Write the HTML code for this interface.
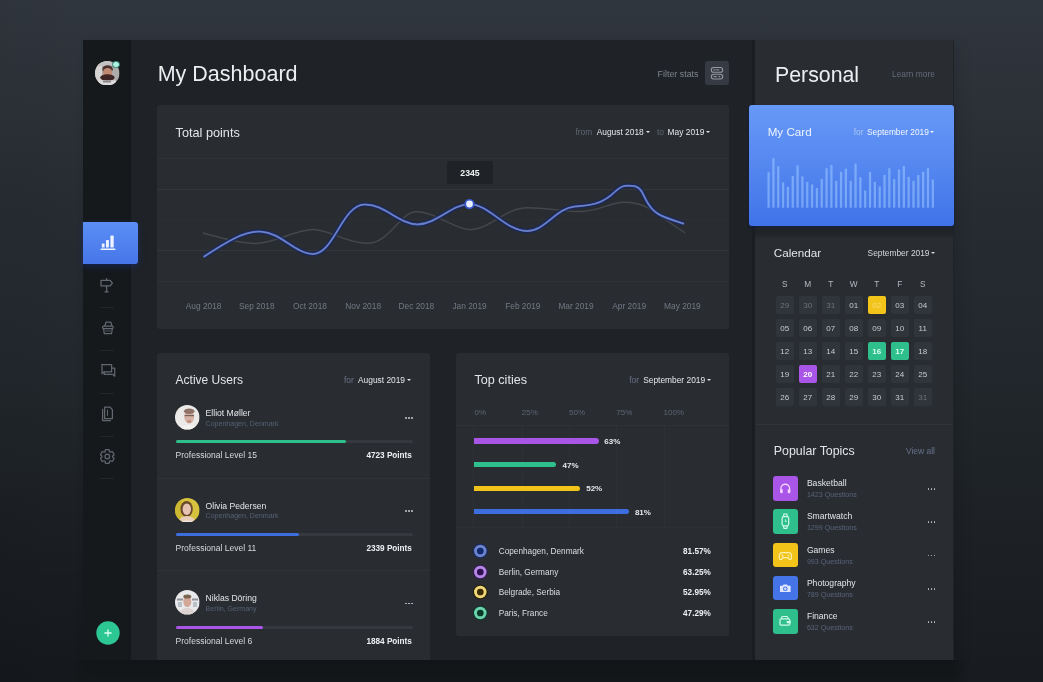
<!DOCTYPE html>
<html><head><meta charset="utf-8"><style>
*{margin:0;padding:0;box-sizing:content-box}
html,body{width:1043px;height:682px;overflow:hidden;background:#1c2024}
body{position:relative;font-family:"Liberation Sans", sans-serif}
.t{position:absolute;white-space:nowrap}
.r{position:absolute}
</style></head><body>
<div style="position:absolute;left:0;top:0;width:1043px;height:682px;filter:blur(0.3px)">
<div class="r" style="left:0;top:0;width:1043px;height:682px;background:linear-gradient(180deg,rgb(48,54,62) 0px,rgb(39,44,50) 200px,rgb(33,38,43) 400px,rgb(26,29,34) 620px,rgb(24,27,31) 682px);"></div>
<div class="r" style="left:0;top:0;width:1043px;height:682px;background:linear-gradient(90deg,rgba(0,0,0,0.03) 0%,rgba(0,0,0,0) 8%,rgba(0,0,0,0) 100%);"></div>
<div class="r" style="left:0;top:380px;width:90px;height:302px;background:linear-gradient(180deg,rgba(0,0,0,0) 0%,rgba(0,0,0,0.10) 70%,rgba(0,0,0,0.12) 100%);"></div>
<div class="r" style="left:70px;top:660px;width:900px;height:22px;background:linear-gradient(90deg,rgba(20,23,26,0) 0px,rgb(20,23,26) 13px,rgb(20,23,26) 884px,rgba(20,23,26,0) 900px);"></div>
<div class="r" style="left:83px;top:40px;width:871px;height:620px;background:#1f2226;border-radius:0;box-shadow:6px 4px 12px rgba(0,0,0,0.10);"></div>
<div class="r" style="left:83px;top:40px;width:48px;height:620px;background:#16191c;border-radius:0;"></div>
<div class="r" style="left:754px;top:40px;width:199px;height:620px;background:#292d31;border-radius:0;"></div>
<div class="r" style="left:752px;top:40px;width:3px;height:620px;background:#1b1e21;border-radius:0;"></div>
<div class="t" style="left:157.70px;top:64.00px;font-size:21.5px;line-height:21.5px;color:#eceef0;font-weight:400;">My Dashboard</div>
<div class="t" style="right:344.50px;top:70.00px;font-size:8.9px;line-height:8.9px;color:#7e848e;font-weight:400;">Filter stats</div>
<div class="r" style="left:705px;top:61px;width:24px;height:24px;background:#353a43;border-radius:3px;"></div>
<svg class="r" style="left:705px;top:61px" width="24" height="24" viewBox="0 0 24 24">
<rect x="6.3" y="6.5" width="11.4" height="4.8" rx="2.4" fill="none" stroke="#959ba4" stroke-width="1.1"/>
<rect x="6.3" y="13.2" width="11.4" height="4.8" rx="2.4" fill="none" stroke="#959ba4" stroke-width="1.1"/>
<rect x="8.4" y="8.4" width="2.2" height="1" fill="#959ba4"/><rect x="11.2" y="8.4" width="3" height="1" fill="#959ba4"/>
<rect x="8.4" y="15.1" width="3.4" height="1" fill="#959ba4"/><path d="M13.8 14.4 L15.6 15.6 L13.8 16.8Z" fill="#959ba4"/>
</svg>
<div class="r" style="left:157px;top:105px;width:572px;height:224px;background:#292d31;border-radius:3px;"></div>
<div class="t" style="left:175.60px;top:127.00px;font-size:12.7px;line-height:12.7px;color:#e3e5e8;font-weight:400;">Total points</div>
<div class="t" style="left:575.50px;top:128.00px;font-size:8.4px;line-height:8.4px;color:#5e6472;font-weight:400;">from</div>
<div class="t" style="left:596.70px;top:128.00px;font-size:8.4px;line-height:8.4px;color:#e6e7e9;font-weight:400;">August 2018</div>
<div class="r" style="left:645.7px;top:131.0px;width:0;height:0;border-left:2.5px solid transparent;border-right:2.5px solid transparent;border-top:2.9px solid #e3e4e6;"></div>
<div class="t" style="left:657.00px;top:128.00px;font-size:8.4px;line-height:8.4px;color:#5e6472;font-weight:400;">to</div>
<div class="t" style="left:667.60px;top:128.00px;font-size:8.4px;line-height:8.4px;color:#e6e7e9;font-weight:400;">May 2019</div>
<div class="r" style="left:706.2px;top:131.0px;width:0;height:0;border-left:2.5px solid transparent;border-right:2.5px solid transparent;border-top:2.9px solid #e3e4e6;"></div>
<div class="r" style="left:157px;top:158px;width:572px;height:1px;background:#2e3236;border-radius:0;"></div>
<div class="r" style="left:157px;top:189px;width:572px;height:1px;background:#33373c;border-radius:0;"></div>
<div class="r" style="left:157px;top:219px;width:572px;height:1px;background:#2c3034;border-radius:0;"></div>
<div class="r" style="left:157px;top:250px;width:572px;height:1px;background:#33373c;border-radius:0;"></div>
<div class="r" style="left:157px;top:281px;width:572px;height:1px;background:#2e3236;border-radius:0;"></div>
<div class="t" style="left:103.60px;width:200px;text-align:center;top:302.00px;font-size:8.35px;line-height:8.35px;color:#727884;font-weight:400;">Aug 2018</div>
<div class="t" style="left:156.80px;width:200px;text-align:center;top:302.00px;font-size:8.35px;line-height:8.35px;color:#727884;font-weight:400;">Sep 2018</div>
<div class="t" style="left:210.00px;width:200px;text-align:center;top:302.00px;font-size:8.35px;line-height:8.35px;color:#727884;font-weight:400;">Oct 2018</div>
<div class="t" style="left:263.20px;width:200px;text-align:center;top:302.00px;font-size:8.35px;line-height:8.35px;color:#727884;font-weight:400;">Nov 2018</div>
<div class="t" style="left:316.40px;width:200px;text-align:center;top:302.00px;font-size:8.35px;line-height:8.35px;color:#727884;font-weight:400;">Dec 2018</div>
<div class="t" style="left:369.60px;width:200px;text-align:center;top:302.00px;font-size:8.35px;line-height:8.35px;color:#727884;font-weight:400;">Jan 2019</div>
<div class="t" style="left:422.80px;width:200px;text-align:center;top:302.00px;font-size:8.35px;line-height:8.35px;color:#727884;font-weight:400;">Feb 2019</div>
<div class="t" style="left:476.00px;width:200px;text-align:center;top:302.00px;font-size:8.35px;line-height:8.35px;color:#727884;font-weight:400;">Mar 2019</div>
<div class="t" style="left:529.20px;width:200px;text-align:center;top:302.00px;font-size:8.35px;line-height:8.35px;color:#727884;font-weight:400;">Apr 2019</div>
<div class="t" style="left:582.40px;width:200px;text-align:center;top:302.00px;font-size:8.35px;line-height:8.35px;color:#727884;font-weight:400;">May 2019</div>
<svg class="r" style="left:0;top:0" width="1043" height="682" viewBox="0 0 1043 682">
<path d="M203,233 C222,238 238,243.5 255.4,243.5 C275,243.5 295,229.5 313,229.5 C330,229.5 345,243.3 367.4,243.3 C390,243.3 400,211.7 416.3,211.7 C435,211.7 455,229.7 470,229.7 C490,229.7 505,207.7 527.5,207.7 C548,207.7 560,211.5 580,211.5 C600,211.5 610,202.2 623.6,202.2 C633,202.2 640,203 648,208 C660,216 672,224 685.3,233" fill="none" stroke="#44484d" stroke-width="1.4"/>
<path d="M203.6,256.9 C225,243 245,230 262,231.7 C281,233 296,254 313,254 C334,254 342,205 364.5,204.5 C385,204 398,224 417.7,224.4 C437,224 452,204 469.5,204.2 C490,204.5 505,231 527.5,231.1 C545,231 556,208 575,206.5 C590,205.5 600,204 610,196 C618,189 621,186 626,185.8 C632,185.6 638,185 642,192 C646,200 650,210 660,215 C668,219 676,221 684,223.7" fill="none" stroke="#1a2858" stroke-width="5" opacity="0.85"/>
<path d="M203.6,256.9 C225,243 245,230 262,231.7 C281,233 296,254 313,254 C334,254 342,205 364.5,204.5 C385,204 398,224 417.7,224.4 C437,224 452,204 469.5,204.2 C490,204.5 505,231 527.5,231.1 C545,231 556,208 575,206.5 C590,205.5 600,204 610,196 C618,189 621,186 626,185.8 C632,185.6 638,185 642,192 C646,200 650,210 660,215 C668,219 676,221 684,223.7" fill="none" stroke="#5a72c4" stroke-width="2"/>
<path d="M203.6,256.9 C225,243 245,230 262,231.7 C281,233 296,254 313,254 C334,254 342,205 364.5,204.5 C385,204 398,224 417.7,224.4 C437,224 452,204 469.5,204.2 C490,204.5 505,231 527.5,231.1 C545,231 556,208 575,206.5 C590,205.5 600,204 610,196 C618,189 621,186 626,185.8 C632,185.6 638,185 642,192 C646,200 650,210 660,215 C668,219 676,221 684,223.7" fill="none" stroke="#7488c8" stroke-width="0.8"/>
<circle cx="469.5" cy="204" r="5.2" fill="#3453c4"/>
<circle cx="469.5" cy="204" r="3.4" fill="#e8eeff"/>
</svg>
<div class="r" style="left:447px;top:161px;width:46px;height:23px;background:#1f2226;border-radius:2px;"></div>
<div class="t" style="left:370.00px;width:200px;text-align:center;top:169.00px;font-size:8.7px;line-height:8.7px;color:#f0f1f2;font-weight:700;">2345</div>
<div class="r" style="left:157px;top:353px;width:273px;height:307px;background:#292d31;border-radius:3px 3px 0 0;"></div>
<div class="t" style="left:175.60px;top:374.00px;font-size:12.0px;line-height:12.0px;color:#e3e5e8;font-weight:400;">Active Users</div>
<div class="t" style="left:344.00px;top:376.00px;font-size:8.4px;line-height:8.4px;color:#6c7088;font-weight:400;">for</div>
<div class="t" style="left:358.00px;top:376.00px;font-size:8.4px;line-height:8.4px;color:#e6e7e9;font-weight:400;">August 2019</div>
<div class="r" style="left:407.0px;top:379.0px;width:0;height:0;border-left:2.5px solid transparent;border-right:2.5px solid transparent;border-top:2.9px solid #e3e4e6;"></div>
<svg class="r" style="left:175.40px;top:405.00px" width="24.6" height="24.6" viewBox="0 0 24.6 24.6">
<defs><clipPath id="av1"><circle cx="12.3" cy="12.3" r="12.3"/></clipPath></defs>
<g clip-path="url(#av1)"><rect width="24.6" height="24.6" fill="#ebeae8"/>
<ellipse cx="14" cy="25" rx="9" ry="5" fill="#f4f3f2"/>
<ellipse cx="14.2" cy="11.8" rx="5" ry="6.6" fill="#d6b2a4"/>
<ellipse cx="14.2" cy="6.2" rx="5.3" ry="2.8" fill="#8f7268"/>
<rect x="9.6" y="10" width="9.4" height="1.2" fill="#5a4a48" opacity="0.8"/>
<ellipse cx="14.2" cy="16.5" rx="2.2" ry="1.2" fill="#c08878"/></g></svg>
<div class="t" style="left:205.60px;top:409.00px;font-size:8.6px;line-height:8.6px;color:#e3e5e8;font-weight:400;">Elliot Møller</div>
<div class="t" style="left:205.60px;top:420.00px;font-size:7.06px;line-height:7.06px;color:#556076;font-weight:400;">Copenhagen, Denmark</div>
<div class="r" style="left:405.2px;top:417.2px;width:1.8px;height:1.8px;border-radius:50%;background:#c4c8cd;"></div>
<div class="r" style="left:408.2px;top:417.2px;width:1.8px;height:1.8px;border-radius:50%;background:#c4c8cd;"></div>
<div class="r" style="left:411.2px;top:417.2px;width:1.8px;height:1.8px;border-radius:50%;background:#c4c8cd;"></div>
<div class="r" style="left:175.6px;top:440.2px;width:237px;height:3px;background:#35383e;border-radius:2px;"></div>
<div class="r" style="left:175.6px;top:440.2px;width:170.4px;height:3px;background:#2ebf8d;border-radius:2px;"></div>
<div class="t" style="left:175.60px;top:451.00px;font-size:8.5px;line-height:8.5px;color:#d8dadd;font-weight:400;">Professional Level 15</div>
<div class="t" style="right:631.10px;top:452.00px;font-size:8.2px;line-height:8.2px;color:#eef0f2;font-weight:700;">4723 Points</div>
<div class="r" style="left:157px;top:477.5px;width:273px;height:1px;background:#2f3237;border-radius:0;"></div>
<svg class="r" style="left:175.40px;top:497.70px" width="24.6" height="24.6" viewBox="0 0 24.6 24.6">
<defs><clipPath id="av2"><circle cx="12.3" cy="12.3" r="12.3"/></clipPath></defs>
<g clip-path="url(#av2)"><rect width="24.6" height="24.6" fill="#d6c23c"/>
<rect x="0" y="0" width="7" height="24.6" fill="#c9b12a" opacity="0.6"/>
<ellipse cx="11.6" cy="11" rx="6.2" ry="8" fill="#6a4a2c"/>
<ellipse cx="11.8" cy="11.2" rx="4.2" ry="5.8" fill="#e6c2b2"/>
<ellipse cx="12" cy="23.5" rx="8" ry="5.5" fill="#e8cdb8"/>
<ellipse cx="12" cy="25" rx="8" ry="2.5" fill="#f0e6e0"/></g></svg>
<div class="t" style="left:205.60px;top:502.00px;font-size:8.6px;line-height:8.6px;color:#e3e5e8;font-weight:400;">Olivia Pedersen</div>
<div class="t" style="left:205.60px;top:512.00px;font-size:7.06px;line-height:7.06px;color:#556076;font-weight:400;">Copenhagen, Denmark</div>
<div class="r" style="left:405.2px;top:509.9px;width:1.8px;height:1.8px;border-radius:50%;background:#c4c8cd;"></div>
<div class="r" style="left:408.2px;top:509.9px;width:1.8px;height:1.8px;border-radius:50%;background:#c4c8cd;"></div>
<div class="r" style="left:411.2px;top:509.9px;width:1.8px;height:1.8px;border-radius:50%;background:#c4c8cd;"></div>
<div class="r" style="left:175.6px;top:532.9px;width:237px;height:3px;background:#35383e;border-radius:2px;"></div>
<div class="r" style="left:175.6px;top:532.9px;width:123.4px;height:3px;background:#3d6ee0;border-radius:2px;"></div>
<div class="t" style="left:175.60px;top:544.00px;font-size:8.5px;line-height:8.5px;color:#d8dadd;font-weight:400;">Professional Level 11</div>
<div class="t" style="right:631.10px;top:545.00px;font-size:8.2px;line-height:8.2px;color:#eef0f2;font-weight:700;">2339 Points</div>
<div class="r" style="left:157px;top:570.2px;width:273px;height:1px;background:#2f3237;border-radius:0;"></div>
<svg class="r" style="left:175.40px;top:590.40px" width="24.6" height="24.6" viewBox="0 0 24.6 24.6">
<defs><clipPath id="av3"><circle cx="12.3" cy="12.3" r="12.3"/></clipPath></defs>
<g clip-path="url(#av3)"><rect width="24.6" height="24.6" fill="#e9e8ea"/>
<rect x="2" y="8.5" width="6" height="2" fill="#8f949b"/><rect x="17" y="8.5" width="6" height="2" fill="#8f949b"/>
<rect x="3" y="12" width="4" height="5" fill="#b8c0c8"/><rect x="18" y="12" width="4" height="5" fill="#b8c0c8"/>
<ellipse cx="12.3" cy="11.5" rx="4" ry="5.5" fill="#d4a898"/>
<ellipse cx="12.3" cy="6.6" rx="4" ry="2" fill="#7a6450"/>
<ellipse cx="12.3" cy="23" rx="7" ry="5" fill="#dcd2d0"/></g></svg>
<div class="t" style="left:205.60px;top:594.00px;font-size:8.6px;line-height:8.6px;color:#e3e5e8;font-weight:400;">Niklas Döring</div>
<div class="t" style="left:205.60px;top:605.00px;font-size:7.06px;line-height:7.06px;color:#556076;font-weight:400;">Berlin, Germany</div>
<div class="r" style="left:405.2px;top:602.6px;width:1.8px;height:1.8px;border-radius:50%;background:#c4c8cd;"></div>
<div class="r" style="left:408.2px;top:602.6px;width:1.8px;height:1.8px;border-radius:50%;background:#c4c8cd;"></div>
<div class="r" style="left:411.2px;top:602.6px;width:1.8px;height:1.8px;border-radius:50%;background:#c4c8cd;"></div>
<div class="r" style="left:175.6px;top:625.6px;width:237px;height:3px;background:#35383e;border-radius:2px;"></div>
<div class="r" style="left:175.6px;top:625.6px;width:87.2px;height:3px;background:#a855e8;border-radius:2px;"></div>
<div class="t" style="left:175.60px;top:637.00px;font-size:8.5px;line-height:8.5px;color:#d8dadd;font-weight:400;">Professional Level 6</div>
<div class="t" style="right:631.10px;top:638.00px;font-size:8.2px;line-height:8.2px;color:#eef0f2;font-weight:700;">1884 Points</div>
<div class="r" style="left:456px;top:353px;width:273px;height:283px;background:#292d31;border-radius:3px;"></div>
<div class="t" style="left:474.50px;top:374.00px;font-size:12.6px;line-height:12.6px;color:#e3e5e8;font-weight:400;">Top cities</div>
<div class="t" style="left:629.30px;top:376.00px;font-size:8.4px;line-height:8.4px;color:#6c7088;font-weight:400;">for</div>
<div class="t" style="left:643.20px;top:376.00px;font-size:8.4px;line-height:8.4px;color:#e6e7e9;font-weight:400;">September 2019</div>
<div class="r" style="left:706.7px;top:379.0px;width:0;height:0;border-left:2.5px solid transparent;border-right:2.5px solid transparent;border-top:2.9px solid #e3e4e6;"></div>
<div class="t" style="left:474.50px;top:409.00px;font-size:8.0px;line-height:8.0px;color:#5d6575;font-weight:400;">0%</div>
<div class="t" style="left:521.75px;top:409.00px;font-size:8.0px;line-height:8.0px;color:#5d6575;font-weight:400;">25%</div>
<div class="t" style="left:569.00px;top:409.00px;font-size:8.0px;line-height:8.0px;color:#5d6575;font-weight:400;">50%</div>
<div class="t" style="left:616.25px;top:409.00px;font-size:8.0px;line-height:8.0px;color:#5d6575;font-weight:400;">75%</div>
<div class="t" style="left:663.50px;top:409.00px;font-size:8.0px;line-height:8.0px;color:#5d6575;font-weight:400;">100%</div>
<div class="r" style="left:456px;top:425px;width:273px;height:1px;background:#2f3237;border-radius:0;"></div>
<div class="r" style="left:456px;top:527px;width:273px;height:1px;background:#2c2f34;border-radius:0;"></div>
<div class="r" style="left:473px;top:426px;width:1px;height:101px;background:#2d3035;border-radius:0;"></div>
<div class="r" style="left:522px;top:426px;width:1px;height:101px;background:#2d3035;border-radius:0;"></div>
<div class="r" style="left:569px;top:426px;width:1px;height:101px;background:#2d3035;border-radius:0;"></div>
<div class="r" style="left:616px;top:426px;width:1px;height:101px;background:#2d3035;border-radius:0;"></div>
<div class="r" style="left:664px;top:426px;width:1px;height:101px;background:#2d3035;border-radius:0;"></div>
<div class="r" style="left:474px;top:438.4px;width:124.7px;height:5.2px;background:#a855e8;border-radius:0 3px 3px 0;"></div>
<div class="t" style="left:604.30px;top:438.00px;font-size:8.0px;line-height:8.0px;color:#e6e7e9;font-weight:700;">63%</div>
<div class="r" style="left:474px;top:461.9px;width:82px;height:5.2px;background:#2ebf8d;border-radius:0 3px 3px 0;"></div>
<div class="t" style="left:562.60px;top:462.00px;font-size:8.0px;line-height:8.0px;color:#e6e7e9;font-weight:700;">47%</div>
<div class="r" style="left:474px;top:485.6px;width:106.1px;height:5.2px;background:#f2c318;border-radius:0 3px 3px 0;"></div>
<div class="t" style="left:586.20px;top:485.00px;font-size:8.0px;line-height:8.0px;color:#e6e7e9;font-weight:700;">52%</div>
<div class="r" style="left:474px;top:509.1px;width:154.5px;height:5.2px;background:#3d6ee0;border-radius:0 3px 3px 0;"></div>
<div class="t" style="left:634.90px;top:509.00px;font-size:8.0px;line-height:8.0px;color:#e6e7e9;font-weight:700;">81%</div>
<svg class="r" style="left:470px;top:541.00px" width="20" height="20" viewBox="0 0 20 20"><circle cx="10.3" cy="10" r="7.6" fill="rgba(20,40,110,0.7)"/><circle cx="10.3" cy="10" r="4.8" fill="#12296e" stroke="#6c84cc" stroke-width="2.9"/></svg>
<div class="t" style="left:498.70px;top:548.00px;font-size:8.25px;line-height:8.25px;color:#dcdee1;font-weight:400;">Copenhagen, Denmark</div>
<div class="t" style="right:332.20px;top:548.00px;font-size:8.2px;line-height:8.2px;color:#eef0f2;font-weight:700;">81.57%</div>
<svg class="r" style="left:470px;top:561.60px" width="20" height="20" viewBox="0 0 20 20"><circle cx="10.3" cy="10" r="7.6" fill="rgba(60,20,100,0.6)"/><circle cx="10.3" cy="10" r="4.8" fill="#2e1050" stroke="#b586e6" stroke-width="2.9"/></svg>
<div class="t" style="left:498.70px;top:569.00px;font-size:8.25px;line-height:8.25px;color:#dcdee1;font-weight:400;">Berlin, Germany</div>
<div class="t" style="right:332.20px;top:569.00px;font-size:8.2px;line-height:8.2px;color:#eef0f2;font-weight:700;">63.25%</div>
<svg class="r" style="left:470px;top:582.20px" width="20" height="20" viewBox="0 0 20 20"><circle cx="10.3" cy="10" r="7.6" fill="rgba(40,30,5,0.8)"/><circle cx="10.3" cy="10" r="4.8" fill="#3a2a08" stroke="#eed878" stroke-width="2.9"/></svg>
<div class="t" style="left:498.70px;top:589.00px;font-size:8.25px;line-height:8.25px;color:#dcdee1;font-weight:400;">Belgrade, Serbia</div>
<div class="t" style="right:332.20px;top:589.00px;font-size:8.2px;line-height:8.2px;color:#eef0f2;font-weight:700;">52.95%</div>
<svg class="r" style="left:470px;top:602.80px" width="20" height="20" viewBox="0 0 20 20"><circle cx="10.3" cy="10" r="7.6" fill="rgba(10,60,45,0.7)"/><circle cx="10.3" cy="10" r="4.8" fill="#0c3a2a" stroke="#6cd4ac" stroke-width="2.9"/></svg>
<div class="t" style="left:498.70px;top:610.00px;font-size:8.25px;line-height:8.25px;color:#dcdee1;font-weight:400;">Paris, France</div>
<div class="t" style="right:332.20px;top:610.00px;font-size:8.2px;line-height:8.2px;color:#eef0f2;font-weight:700;">47.29%</div>
<div class="t" style="left:775.00px;top:65.00px;font-size:21.3px;line-height:21.3px;color:#eceef0;font-weight:400;">Personal</div>
<div class="t" style="left:892.00px;top:70.00px;font-size:8.4px;line-height:8.4px;color:#646a78;font-weight:400;">Learn more</div>
<div class="r" style="left:749px;top:105px;width:205px;height:121px;background:linear-gradient(180deg,#6699f6 0%,#5587f0 50%,#4073e8 100%);border-radius:3px;box-shadow:0 2px 3px rgba(10,25,80,0.7);"></div>
<div class="r" style="left:755px;top:226px;width:198px;height:12px;background:linear-gradient(180deg,#15203a 0%,#1f2328 25%,#24272c 90%,#292d31 100%);border-radius:0;"></div>
<div class="t" style="left:767.70px;top:126.00px;font-size:11.64px;line-height:11.64px;color:#eef3ff;font-weight:400;">My Card</div>
<div class="t" style="left:853.80px;top:128.00px;font-size:8.38px;line-height:8.38px;color:#a9c3f7;font-weight:400;">for</div>
<div class="t" style="left:867.00px;top:128.00px;font-size:8.38px;line-height:8.38px;color:#f4f7ff;font-weight:400;">September 2019</div>
<div class="r" style="left:930.2px;top:130.60000000000002px;width:0;height:0;border-left:2.5px solid transparent;border-right:2.5px solid transparent;border-top:2.9px solid #f4f7ff;"></div>
<svg class="r" style="left:0;top:0" width="1043" height="682" viewBox="0 0 1043 682"><g fill="rgb(150,195,255)" fill-opacity="0.6"><rect x="767.45" y="172.3" width="2.3" height="35.4"/><rect x="772.28" y="158.2" width="2.3" height="49.5"/><rect x="777.11" y="166.2" width="2.3" height="41.5"/><rect x="781.94" y="182.3" width="2.3" height="25.4"/><rect x="786.77" y="186.8" width="2.3" height="20.9"/><rect x="791.60" y="175.9" width="2.3" height="31.8"/><rect x="796.43" y="165.3" width="2.3" height="42.4"/><rect x="801.26" y="176.4" width="2.3" height="31.3"/><rect x="806.09" y="181.8" width="2.3" height="25.9"/><rect x="810.92" y="184.4" width="2.3" height="23.3"/><rect x="815.75" y="188.0" width="2.3" height="19.7"/><rect x="820.58" y="178.9" width="2.3" height="28.8"/><rect x="825.41" y="168.2" width="2.3" height="39.5"/><rect x="830.24" y="165.0" width="2.3" height="42.7"/><rect x="835.07" y="180.9" width="2.3" height="26.8"/><rect x="839.90" y="171.8" width="2.3" height="35.9"/><rect x="844.73" y="168.6" width="2.3" height="39.1"/><rect x="849.56" y="180.9" width="2.3" height="26.8"/><rect x="854.39" y="163.6" width="2.3" height="44.1"/><rect x="859.22" y="177.3" width="2.3" height="30.4"/><rect x="864.05" y="190.5" width="2.3" height="17.2"/><rect x="868.88" y="171.8" width="2.3" height="35.9"/><rect x="873.71" y="181.8" width="2.3" height="25.9"/><rect x="878.54" y="186.4" width="2.3" height="21.3"/><rect x="883.37" y="175.0" width="2.3" height="32.7"/><rect x="888.20" y="168.2" width="2.3" height="39.5"/><rect x="893.03" y="179.1" width="2.3" height="28.6"/><rect x="897.86" y="169.5" width="2.3" height="38.2"/><rect x="902.69" y="165.9" width="2.3" height="41.8"/><rect x="907.52" y="176.8" width="2.3" height="30.9"/><rect x="912.35" y="180.9" width="2.3" height="26.8"/><rect x="917.18" y="175.0" width="2.3" height="32.7"/><rect x="922.01" y="171.8" width="2.3" height="35.9"/><rect x="926.84" y="168.2" width="2.3" height="39.5"/><rect x="931.67" y="179.5" width="2.3" height="28.2"/></g></svg>
<div class="t" style="left:773.80px;top:247.00px;font-size:11.7px;line-height:11.7px;color:#e3e5e8;font-weight:400;">Calendar</div>
<div class="t" style="left:867.60px;top:249.00px;font-size:8.38px;line-height:8.38px;color:#d5d8dc;font-weight:400;">September 2019</div>
<div class="r" style="left:930.7px;top:251.60000000000002px;width:0;height:0;border-left:2.5px solid transparent;border-right:2.5px solid transparent;border-top:2.9px solid #d5d8dc;"></div>
<div class="t" style="left:684.70px;width:200px;text-align:center;top:280.00px;font-size:8.3px;line-height:8.3px;color:#b5b9bf;font-weight:400;">S</div>
<div class="t" style="left:707.70px;width:200px;text-align:center;top:280.00px;font-size:8.3px;line-height:8.3px;color:#b5b9bf;font-weight:400;">M</div>
<div class="t" style="left:730.70px;width:200px;text-align:center;top:280.00px;font-size:8.3px;line-height:8.3px;color:#b5b9bf;font-weight:400;">T</div>
<div class="t" style="left:753.70px;width:200px;text-align:center;top:280.00px;font-size:8.3px;line-height:8.3px;color:#b5b9bf;font-weight:400;">W</div>
<div class="t" style="left:776.70px;width:200px;text-align:center;top:280.00px;font-size:8.3px;line-height:8.3px;color:#b5b9bf;font-weight:400;">T</div>
<div class="t" style="left:799.70px;width:200px;text-align:center;top:280.00px;font-size:8.3px;line-height:8.3px;color:#b5b9bf;font-weight:400;">F</div>
<div class="t" style="left:822.70px;width:200px;text-align:center;top:280.00px;font-size:8.3px;line-height:8.3px;color:#b5b9bf;font-weight:400;">S</div>
<div class="r" style="left:775.7px;top:295.6px;width:18px;height:18px;background:#30353b;border-radius:2px;"></div>
<div class="t" style="left:684.70px;width:200px;text-align:center;top:302.00px;font-size:8.0px;line-height:8.0px;color:#6c727c;font-weight:400;">29</div>
<div class="r" style="left:798.7px;top:295.6px;width:18px;height:18px;background:#30353b;border-radius:2px;"></div>
<div class="t" style="left:707.70px;width:200px;text-align:center;top:302.00px;font-size:8.0px;line-height:8.0px;color:#6c727c;font-weight:400;">30</div>
<div class="r" style="left:821.7px;top:295.6px;width:18px;height:18px;background:#30353b;border-radius:2px;"></div>
<div class="t" style="left:730.70px;width:200px;text-align:center;top:302.00px;font-size:8.0px;line-height:8.0px;color:#6c727c;font-weight:400;">31</div>
<div class="r" style="left:844.7px;top:295.6px;width:18px;height:18px;background:#30353b;border-radius:2px;"></div>
<div class="t" style="left:753.70px;width:200px;text-align:center;top:302.00px;font-size:8.0px;line-height:8.0px;color:#c8cbd0;font-weight:400;">01</div>
<div class="r" style="left:867.7px;top:295.6px;width:18px;height:18px;background:#f2c318;border-radius:2px;"></div>
<div class="t" style="left:776.70px;width:200px;text-align:center;top:302.00px;font-size:8.0px;line-height:8.0px;color:#f7dd7a;font-weight:400;">02</div>
<div class="r" style="left:890.7px;top:295.6px;width:18px;height:18px;background:#30353b;border-radius:2px;"></div>
<div class="t" style="left:799.70px;width:200px;text-align:center;top:302.00px;font-size:8.0px;line-height:8.0px;color:#c8cbd0;font-weight:400;">03</div>
<div class="r" style="left:913.7px;top:295.6px;width:18px;height:18px;background:#30353b;border-radius:2px;"></div>
<div class="t" style="left:822.70px;width:200px;text-align:center;top:302.00px;font-size:8.0px;line-height:8.0px;color:#c8cbd0;font-weight:400;">04</div>
<div class="r" style="left:775.7px;top:318.6px;width:18px;height:18px;background:#30353b;border-radius:2px;"></div>
<div class="t" style="left:684.70px;width:200px;text-align:center;top:325.00px;font-size:8.0px;line-height:8.0px;color:#c8cbd0;font-weight:400;">05</div>
<div class="r" style="left:798.7px;top:318.6px;width:18px;height:18px;background:#30353b;border-radius:2px;"></div>
<div class="t" style="left:707.70px;width:200px;text-align:center;top:325.00px;font-size:8.0px;line-height:8.0px;color:#c8cbd0;font-weight:400;">06</div>
<div class="r" style="left:821.7px;top:318.6px;width:18px;height:18px;background:#30353b;border-radius:2px;"></div>
<div class="t" style="left:730.70px;width:200px;text-align:center;top:325.00px;font-size:8.0px;line-height:8.0px;color:#c8cbd0;font-weight:400;">07</div>
<div class="r" style="left:844.7px;top:318.6px;width:18px;height:18px;background:#30353b;border-radius:2px;"></div>
<div class="t" style="left:753.70px;width:200px;text-align:center;top:325.00px;font-size:8.0px;line-height:8.0px;color:#c8cbd0;font-weight:400;">08</div>
<div class="r" style="left:867.7px;top:318.6px;width:18px;height:18px;background:#30353b;border-radius:2px;"></div>
<div class="t" style="left:776.70px;width:200px;text-align:center;top:325.00px;font-size:8.0px;line-height:8.0px;color:#c8cbd0;font-weight:400;">09</div>
<div class="r" style="left:890.7px;top:318.6px;width:18px;height:18px;background:#30353b;border-radius:2px;"></div>
<div class="t" style="left:799.70px;width:200px;text-align:center;top:325.00px;font-size:8.0px;line-height:8.0px;color:#c8cbd0;font-weight:400;">10</div>
<div class="r" style="left:913.7px;top:318.6px;width:18px;height:18px;background:#30353b;border-radius:2px;"></div>
<div class="t" style="left:822.70px;width:200px;text-align:center;top:325.00px;font-size:8.0px;line-height:8.0px;color:#c8cbd0;font-weight:400;">11</div>
<div class="r" style="left:775.7px;top:341.6px;width:18px;height:18px;background:#30353b;border-radius:2px;"></div>
<div class="t" style="left:684.70px;width:200px;text-align:center;top:348.00px;font-size:8.0px;line-height:8.0px;color:#c8cbd0;font-weight:400;">12</div>
<div class="r" style="left:798.7px;top:341.6px;width:18px;height:18px;background:#30353b;border-radius:2px;"></div>
<div class="t" style="left:707.70px;width:200px;text-align:center;top:348.00px;font-size:8.0px;line-height:8.0px;color:#c8cbd0;font-weight:400;">13</div>
<div class="r" style="left:821.7px;top:341.6px;width:18px;height:18px;background:#30353b;border-radius:2px;"></div>
<div class="t" style="left:730.70px;width:200px;text-align:center;top:348.00px;font-size:8.0px;line-height:8.0px;color:#c8cbd0;font-weight:400;">14</div>
<div class="r" style="left:844.7px;top:341.6px;width:18px;height:18px;background:#30353b;border-radius:2px;"></div>
<div class="t" style="left:753.70px;width:200px;text-align:center;top:348.00px;font-size:8.0px;line-height:8.0px;color:#c8cbd0;font-weight:400;">15</div>
<div class="r" style="left:867.7px;top:341.6px;width:18px;height:18px;background:#2ebf8d;border-radius:2px;"></div>
<div class="t" style="left:776.70px;width:200px;text-align:center;top:348.00px;font-size:8.0px;line-height:8.0px;color:#d8fff0;font-weight:700;">16</div>
<div class="r" style="left:890.7px;top:341.6px;width:18px;height:18px;background:#2ebf8d;border-radius:2px;"></div>
<div class="t" style="left:799.70px;width:200px;text-align:center;top:348.00px;font-size:8.0px;line-height:8.0px;color:#d8fff0;font-weight:700;">17</div>
<div class="r" style="left:913.7px;top:341.6px;width:18px;height:18px;background:#30353b;border-radius:2px;"></div>
<div class="t" style="left:822.70px;width:200px;text-align:center;top:348.00px;font-size:8.0px;line-height:8.0px;color:#c8cbd0;font-weight:400;">18</div>
<div class="r" style="left:775.7px;top:364.6px;width:18px;height:18px;background:#30353b;border-radius:2px;"></div>
<div class="t" style="left:684.70px;width:200px;text-align:center;top:371.00px;font-size:8.0px;line-height:8.0px;color:#c8cbd0;font-weight:400;">19</div>
<div class="r" style="left:798.7px;top:364.6px;width:18px;height:18px;background:#a855e8;border-radius:2px;"></div>
<div class="t" style="left:707.70px;width:200px;text-align:center;top:371.00px;font-size:8.0px;line-height:8.0px;color:#ffffff;font-weight:700;">20</div>
<div class="r" style="left:821.7px;top:364.6px;width:18px;height:18px;background:#30353b;border-radius:2px;"></div>
<div class="t" style="left:730.70px;width:200px;text-align:center;top:371.00px;font-size:8.0px;line-height:8.0px;color:#c8cbd0;font-weight:400;">21</div>
<div class="r" style="left:844.7px;top:364.6px;width:18px;height:18px;background:#30353b;border-radius:2px;"></div>
<div class="t" style="left:753.70px;width:200px;text-align:center;top:371.00px;font-size:8.0px;line-height:8.0px;color:#c8cbd0;font-weight:400;">22</div>
<div class="r" style="left:867.7px;top:364.6px;width:18px;height:18px;background:#30353b;border-radius:2px;"></div>
<div class="t" style="left:776.70px;width:200px;text-align:center;top:371.00px;font-size:8.0px;line-height:8.0px;color:#c8cbd0;font-weight:400;">23</div>
<div class="r" style="left:890.7px;top:364.6px;width:18px;height:18px;background:#30353b;border-radius:2px;"></div>
<div class="t" style="left:799.70px;width:200px;text-align:center;top:371.00px;font-size:8.0px;line-height:8.0px;color:#c8cbd0;font-weight:400;">24</div>
<div class="r" style="left:913.7px;top:364.6px;width:18px;height:18px;background:#30353b;border-radius:2px;"></div>
<div class="t" style="left:822.70px;width:200px;text-align:center;top:371.00px;font-size:8.0px;line-height:8.0px;color:#c8cbd0;font-weight:400;">25</div>
<div class="r" style="left:775.7px;top:387.6px;width:18px;height:18px;background:#30353b;border-radius:2px;"></div>
<div class="t" style="left:684.70px;width:200px;text-align:center;top:394.00px;font-size:8.0px;line-height:8.0px;color:#c8cbd0;font-weight:400;">26</div>
<div class="r" style="left:798.7px;top:387.6px;width:18px;height:18px;background:#30353b;border-radius:2px;"></div>
<div class="t" style="left:707.70px;width:200px;text-align:center;top:394.00px;font-size:8.0px;line-height:8.0px;color:#c8cbd0;font-weight:400;">27</div>
<div class="r" style="left:821.7px;top:387.6px;width:18px;height:18px;background:#30353b;border-radius:2px;"></div>
<div class="t" style="left:730.70px;width:200px;text-align:center;top:394.00px;font-size:8.0px;line-height:8.0px;color:#c8cbd0;font-weight:400;">28</div>
<div class="r" style="left:844.7px;top:387.6px;width:18px;height:18px;background:#30353b;border-radius:2px;"></div>
<div class="t" style="left:753.70px;width:200px;text-align:center;top:394.00px;font-size:8.0px;line-height:8.0px;color:#c8cbd0;font-weight:400;">29</div>
<div class="r" style="left:867.7px;top:387.6px;width:18px;height:18px;background:#30353b;border-radius:2px;"></div>
<div class="t" style="left:776.70px;width:200px;text-align:center;top:394.00px;font-size:8.0px;line-height:8.0px;color:#c8cbd0;font-weight:400;">30</div>
<div class="r" style="left:890.7px;top:387.6px;width:18px;height:18px;background:#30353b;border-radius:2px;"></div>
<div class="t" style="left:799.70px;width:200px;text-align:center;top:394.00px;font-size:8.0px;line-height:8.0px;color:#c8cbd0;font-weight:400;">31</div>
<div class="r" style="left:913.7px;top:387.6px;width:18px;height:18px;background:#30353b;border-radius:2px;"></div>
<div class="t" style="left:822.70px;width:200px;text-align:center;top:394.00px;font-size:8.0px;line-height:8.0px;color:#6c727c;font-weight:400;">31</div>
<div class="r" style="left:755px;top:423.5px;width:198px;height:1.5px;background:#31353a;border-radius:0;"></div>
<div class="t" style="left:773.80px;top:445.00px;font-size:12.38px;line-height:12.38px;color:#e3e5e8;font-weight:400;">Popular Topics</div>
<div class="t" style="left:906.00px;top:447.00px;font-size:8.46px;line-height:8.46px;color:#66718a;font-weight:400;">View all</div>
<div class="r" style="left:773.2px;top:476.2px;width:24.5px;height:24.5px;background:#a855e8;border-radius:3px;"></div>
<svg class="r" style="left:773.2px;top:476.2px" width="24.5" height="24.5" viewBox="0 0 24.5 24.5"><g fill="none" stroke="#f3d4ff" stroke-width="1.3" stroke-linecap="round"><path d="M7.9 15.5 V12.6 A4.35 4.35 0 0 1 16.6 12.6 V15.5"/></g><rect x="7.2" y="13.2" width="2.6" height="4" rx="0.9" fill="#f3d4ff"/><rect x="14.7" y="13.2" width="2.6" height="4" rx="0.9" fill="#f3d4ff"/></svg>
<div class="t" style="left:806.90px;top:479.00px;font-size:8.6px;line-height:8.6px;color:#e3e5e8;font-weight:400;">Basketball</div>
<div class="t" style="left:806.90px;top:492.00px;font-size:7.14px;line-height:7.14px;color:#59627a;font-weight:400;">1423 Questions</div>
<div class="r" style="left:927.7px;top:488.2px;width:1.8px;height:1.8px;border-radius:50%;background:#c4c8cd;"></div>
<div class="r" style="left:930.7px;top:488.2px;width:1.8px;height:1.8px;border-radius:50%;background:#c4c8cd;"></div>
<div class="r" style="left:933.7px;top:488.2px;width:1.8px;height:1.8px;border-radius:50%;background:#c4c8cd;"></div>
<div class="r" style="left:773.2px;top:509.4px;width:24.5px;height:24.5px;background:#2ebf8d;border-radius:3px;"></div>
<svg class="r" style="left:773.2px;top:509.4px" width="24.5" height="24.5" viewBox="0 0 24.5 24.5"><g fill="none" stroke="#d2fbe9" stroke-width="1.2"><rect x="9.1" y="7.6" width="6.6" height="9.2" rx="1.8"/><path d="M10.4 7.6 L11 5 H13.8 L14.4 7.6 M10.4 16.8 L11 19.3 H13.8 L14.4 16.8"/></g><path d="M12.4 10.3 V12.5 H13.8" fill="none" stroke="#d2fbe9" stroke-width="0.9"/></svg>
<div class="t" style="left:806.90px;top:512.00px;font-size:8.6px;line-height:8.6px;color:#e3e5e8;font-weight:400;">Smartwatch</div>
<div class="t" style="left:806.90px;top:525.00px;font-size:7.14px;line-height:7.14px;color:#59627a;font-weight:400;">1299 Questions</div>
<div class="r" style="left:927.7px;top:521.4px;width:1.8px;height:1.8px;border-radius:50%;background:#c4c8cd;"></div>
<div class="r" style="left:930.7px;top:521.4px;width:1.8px;height:1.8px;border-radius:50%;background:#c4c8cd;"></div>
<div class="r" style="left:933.7px;top:521.4px;width:1.8px;height:1.8px;border-radius:50%;background:#c4c8cd;"></div>
<div class="r" style="left:773.2px;top:542.6px;width:24.5px;height:24.5px;background:#f2c318;border-radius:3px;"></div>
<svg class="r" style="left:773.2px;top:542.6px" width="24.5" height="24.5" viewBox="0 0 24.5 24.5"><path d="M9.2 9.6 H15.6 C17.6 9.6 18.6 12 18.6 14.2 C18.6 16.2 17.4 17 16.4 16.2 L14.8 14.7 H10 L8.4 16.2 C7.4 17 6.2 16.2 6.2 14.2 C6.2 12 7.2 9.6 9.2 9.6Z" fill="none" stroke="#fff2b0" stroke-width="1.2"/><path d="M9.6 11.6 V13.8 M8.5 12.7 H10.7" stroke="#fff2b0" stroke-width="0.9"/><circle cx="15" cy="12.2" r="0.6" fill="#fff2b0"/><circle cx="16" cy="13.3" r="0.6" fill="#fff2b0"/></svg>
<div class="t" style="left:806.90px;top:546.00px;font-size:8.6px;line-height:8.6px;color:#e3e5e8;font-weight:400;">Games</div>
<div class="t" style="left:806.90px;top:559.00px;font-size:7.14px;line-height:7.14px;color:#59627a;font-weight:400;">993 Questions</div>
<div class="r" style="left:927.7px;top:554.6px;width:1.8px;height:1.8px;border-radius:50%;background:#c4c8cd;"></div>
<div class="r" style="left:930.7px;top:554.6px;width:1.8px;height:1.8px;border-radius:50%;background:#c4c8cd;"></div>
<div class="r" style="left:933.7px;top:554.6px;width:1.8px;height:1.8px;border-radius:50%;background:#c4c8cd;"></div>
<div class="r" style="left:773.2px;top:575.8px;width:24.5px;height:24.5px;background:#4574e8;border-radius:3px;"></div>
<svg class="r" style="left:773.2px;top:575.8px" width="24.5" height="24.5" viewBox="0 0 24.5 24.5"><path d="M7 9.8 H9.6 L10.6 8.4 H14 L15 9.8 H17.6 V16 H7Z" fill="#dfe8ff"/><circle cx="12.3" cy="12.7" r="2.3" fill="#4574e8"/><circle cx="12.3" cy="12.7" r="1.2" fill="#dfe8ff"/></svg>
<div class="t" style="left:806.90px;top:579.00px;font-size:8.6px;line-height:8.6px;color:#e3e5e8;font-weight:400;">Photography</div>
<div class="t" style="left:806.90px;top:592.00px;font-size:7.14px;line-height:7.14px;color:#59627a;font-weight:400;">789 Questions</div>
<div class="r" style="left:927.7px;top:587.8px;width:1.8px;height:1.8px;border-radius:50%;background:#c4c8cd;"></div>
<div class="r" style="left:930.7px;top:587.8px;width:1.8px;height:1.8px;border-radius:50%;background:#c4c8cd;"></div>
<div class="r" style="left:933.7px;top:587.8px;width:1.8px;height:1.8px;border-radius:50%;background:#c4c8cd;"></div>
<div class="r" style="left:773.2px;top:609.0px;width:24.5px;height:24.5px;background:#2ebf8d;border-radius:3px;"></div>
<svg class="r" style="left:773.2px;top:609.0px" width="24.5" height="24.5" viewBox="0 0 24.5 24.5"><g fill="none" stroke="#d2fbe9" stroke-width="1.2"><rect x="7" y="9.8" width="9.8" height="6.4" rx="1.2"/><path d="M8.6 9.8 V8.4 C8.6 7.8 9 7.5 9.6 7.5 H13.8 C14.4 7.5 14.8 7.8 14.8 8.4 V9.8"/></g><rect x="13.6" y="12" width="4.2" height="2.2" rx="0.6" fill="#d2fbe9"/></svg>
<div class="t" style="left:806.90px;top:612.00px;font-size:8.6px;line-height:8.6px;color:#e3e5e8;font-weight:400;">Finance</div>
<div class="t" style="left:806.90px;top:625.00px;font-size:7.14px;line-height:7.14px;color:#59627a;font-weight:400;">632 Questions</div>
<div class="r" style="left:927.7px;top:621.0px;width:1.8px;height:1.8px;border-radius:50%;background:#c4c8cd;"></div>
<div class="r" style="left:930.7px;top:621.0px;width:1.8px;height:1.8px;border-radius:50%;background:#c4c8cd;"></div>
<div class="r" style="left:933.7px;top:621.0px;width:1.8px;height:1.8px;border-radius:50%;background:#c4c8cd;"></div>
<svg class="r" style="left:95.45px;top:60.95px" width="24.5" height="24.5" viewBox="0 0 24.5 24.5">
<defs><clipPath id="av4"><circle cx="12.25" cy="12.25" r="12.25"/></clipPath></defs>
<g clip-path="url(#av4)"><rect width="24.5" height="24.5" fill="#aeacab"/>
<rect x="0" y="0" width="7" height="24.5" fill="#d6d4d3"/>
<rect x="0" y="0" width="24.5" height="5" fill="#c4c2c1"/>
<ellipse cx="12.6" cy="8.2" rx="5.2" ry="4" fill="#4a3230"/>
<ellipse cx="12.6" cy="11.6" rx="4.6" ry="4.6" fill="#c08a72"/>
<ellipse cx="12.4" cy="16.6" rx="7.2" ry="3.4" fill="#3e2624"/>
<rect x="3" y="19.4" width="18" height="6" fill="#dcdcdd"/>
<rect x="8" y="20.2" width="8" height="1.2" fill="#707072"/></g></svg>
<div class="r" style="left:112.2px;top:60.9px;width:5.4px;height:5.4px;border-radius:50%;background:#b0f0e0;border:1px solid #2a7a6a;"></div>
<div class="r" style="left:83px;top:222px;width:55px;height:42px;background:linear-gradient(180deg,#5b8ef6 0%,#4676e8 100%);border-radius:0 3px 3px 0;box-shadow:0 2px 6px rgba(20,50,140,0.5);"></div>
<svg class="r" style="left:83px;top:222px" width="55" height="42" viewBox="0 0 55 42">
<g fill="#eef3ff"><rect x="18.8" y="21.4" width="2.8" height="4.2" rx="0.6"/><rect x="23" y="18" width="2.9" height="7.6" rx="0.6"/><rect x="27.4" y="13.6" width="3.3" height="12" rx="0.6"/>
<rect x="17.6" y="26.6" width="14.8" height="1.4" rx="0.5"/></g></svg>
<svg class="r" style="left:83px;top:270px" width="48" height="200" viewBox="0 0 48 200" fill="none" stroke="#62666e" stroke-width="1.25" stroke-linejoin="round" stroke-linecap="round">
<path d="M18 10.3 H27.2 L29.4 13.1 L27.2 15.9 H18Z"/><path d="M23.6 15.9 V21.6"/><path d="M22 21.8 H25.2"/><path d="M23.6 8.6 V10.3"/>
<path d="M21.8 56 L23 52.2 H27.8 L29 56"/><rect x="19.6" y="56" width="10.6" height="2.6" rx="1.2"/><path d="M20.5 58.6 L21.3 63.6 H28.5 L29.3 58.6"/><path d="M21.5 61 H28.3" stroke-width="1.6" stroke="#3a3d44"/>
<path d="M18.6 94.5 H28.6 V101.8 H21.2 L19 103.8 V94.5Z"/><path d="M28.6 98 H31.7 V106.2 L29.6 104.3 H21.2 V101.8"/>
<path d="M19.6 139.4 V150.6 H27.4"/><path d="M21.6 137 H26.8 L29.4 139.6 V148.6 H21.6Z"/><path d="M24.5 140 V145.5" stroke-width="1"/>
<circle cx="24.3" cy="186.5" r="2.3"/>
<path d="M22.28 179.90 L23.20 179.59 L25.40 179.59 L26.32 179.90 L26.46 181.66 L27.42 182.21 L29.01 181.45 L29.74 182.09 L30.84 183.99 L31.02 184.95 L29.57 185.95 L29.57 187.05 L31.02 188.05 L30.84 189.01 L29.74 190.91 L29.01 191.55 L27.42 190.79 L26.46 191.34 L26.32 193.10 L25.40 193.41 L23.20 193.41 L22.28 193.10 L22.14 191.34 L21.18 190.79 L19.59 191.55 L18.86 190.91 L17.76 189.01 L17.58 188.05 L19.03 187.05 L19.03 185.95 L17.58 184.95 L17.76 183.99 L18.86 182.09 L19.59 181.45 L21.18 182.21 L22.14 181.66Z"/>
</svg>
<div class="r" style="left:100px;top:307px;width:14px;height:1px;background:#22252a;border-radius:0;"></div>
<div class="r" style="left:100px;top:350px;width:14px;height:1px;background:#22252a;border-radius:0;"></div>
<div class="r" style="left:100px;top:393px;width:14px;height:1px;background:#22252a;border-radius:0;"></div>
<div class="r" style="left:100px;top:436px;width:14px;height:1px;background:#22252a;border-radius:0;"></div>
<div class="r" style="left:100px;top:478px;width:14px;height:1px;background:#22252a;border-radius:0;"></div>
<svg class="r" style="left:95.2px;top:619.6px" width="26" height="26" viewBox="0 0 26 26"><circle cx="13" cy="13" r="11.7" fill="#2dc794"/><path d="M13 9.4 V16.6 M9.4 13 H16.6" stroke="#dcfff2" stroke-width="1.3"/></svg>
</div>
</body></html>
